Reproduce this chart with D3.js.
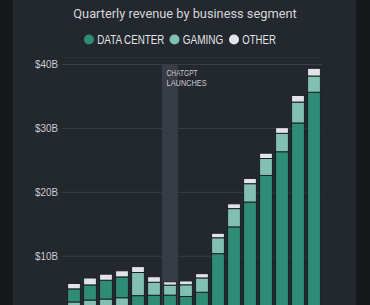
<!DOCTYPE html>
<meta charset="utf-8">
<style>
  body { margin: 0; background: #16181c; }
  svg { display: block; }
  .title { font: 12.8px Roboto, sans-serif; fill: #d4d6da; }
  .legend text { font: 12.5px "Liberation Sans", sans-serif; fill: #e2e4e8; }
  .axis text { font: 11.5px "Liberation Sans", sans-serif; fill: #c9ccd1; }
  .axis line { stroke: #3a3f47; }
  .axis path { display: none; }
  .note { font: 9.5px "Liberation Sans", sans-serif; fill: #c9ccd1; }
</style>
<body>
<script src="https://cdn.jsdelivr.net/npm/d3@7"></script>
<script>
  // Nvidia quarterly revenue, $B
  var quarters = ["Q1 FY22", "Q2 FY22", "Q3 FY22", "Q4 FY22", "Q1 FY23", "Q2 FY23", "Q3 FY23", "Q4 FY23",
    "Q1 FY24", "Q2 FY24", "Q3 FY24", "Q4 FY24", "Q1 FY25", "Q2 FY25", "Q3 FY25", "Q4 FY25"];
  var dataCenter = [2.05, 2.37, 2.94, 3.26, 3.75, 3.81, 3.83, 3.62, 4.28, 10.32, 14.51, 18.40, 22.56, 26.27, 30.77, 35.58];
  var gaming = [2.76, 3.06, 3.22, 3.42, 3.62, 2.04, 1.57, 1.83, 2.24, 2.49, 2.86, 2.87, 2.65, 2.88, 3.28, 2.54];
  var other = [0.85, 1.08, 0.95, 0.96, 0.92, 0.86, 0.52, 0.60, 0.67, 0.70, 0.75, 0.83, 0.83, 0.89, 1.03, 1.21];
  var segments = ["DATA CENTER", "GAMING", "OTHER"];
  var yTicks = [10, 20, 30, 40];
  var chatgptQuarter = "Q3 FY23";

  var width = 370, height = 305;
  var color = d3.scaleOrdinal(segments, ["#2e8c77", "#82c1b2", "#e3e4e8"]);

  var x = d3.scaleBand()
    .domain(quarters)
    .range([66, 322])
    .paddingInner(0.2)
    .paddingOuter(0.1);

  var y = d3.scaleLinear()
    .domain([0, 40])
    .range([319.6, 64]);

  var svg = d3.select("body").append("svg")
    .attr("width", width)
    .attr("height", height);

  // panel
  svg.append("rect")
    .attr("x", 13).attr("y", 0)
    .attr("width", 343).attr("height", height)
    .attr("fill", "#23272e");

  svg.append("text")
    .attr("class", "title")
    .attr("x", 185).attr("y", 18)
    .attr("text-anchor", "middle")
    .text("Quarterly revenue by business segment");

  // legend (condensed look: squeeze the text to the widths in the original)
  var legendX = [89, 174.5, 234];
  var legendW = [67, 40.5, 33.5];
  var legend = svg.append("g").attr("class", "legend")
    .selectAll("g")
    .data(segments)
    .enter().append("g")
    .attr("transform", function (d, i) { return "translate(" + legendX[i] + ",39.5)"; });
  legend.append("circle").attr("r", 5).attr("fill", color);
  legend.append("text")
    .attr("x", 8.3).attr("dy", "0.36em")
    .attr("textLength", function (d, i) { return legendW[i]; })
    .attr("lengthAdjust", "spacingAndGlyphs")
    .text(function (d) { return d; });

  // faint rule under legend
  svg.append("line")
    .attr("x1", 62).attr("x2", 322)
    .attr("y1", 57.5).attr("y2", 57.5)
    .attr("stroke", "#2b2f36");

  svg.append("g")
    .attr("class", "axis")
    .attr("transform", "translate(62,0)")
    .call(d3.axisLeft(y).tickValues(yTicks).tickSize(-260)
      .tickFormat(function (d) { return "$" + d + "B"; }))
    .call(function (g) {
      g.selectAll("text")
        .attr("x", -27).attr("text-anchor", "start")
        .attr("textLength", 23)
        .attr("lengthAdjust", "spacingAndGlyphs");
    });

  // ChatGPT launch band
  svg.append("rect")
    .attr("x", x(chatgptQuarter) - x.step() * x.paddingInner() / 2)
    .attr("y", y(40))
    .attr("width", x.step())
    .attr("height", height)
    .attr("fill", "#383c44");

  var noteW = [31, 40];
  svg.append("text")
    .attr("class", "note")
    .attr("y", 75.5)
    .selectAll("tspan")
    .data(["CHATGPT", "LAUNCHES"])
    .enter().append("tspan")
    .attr("x", x(chatgptQuarter) + 3)
    .attr("dy", function (d, i) { return i ? 10.5 : 0; })
    .attr("textLength", function (d, i) { return noteW[i]; })
    .attr("lengthAdjust", "spacingAndGlyphs")
    .text(function (d) { return d; });

  // stack per quarter, larger of data center / gaming at the bottom, other on top
  var stacked = [];
  quarters.forEach(function (q, i) {
    var parts = [
      { key: "DATA CENTER", value: dataCenter[i] },
      { key: "GAMING", value: gaming[i] }
    ].sort(function (a, b) { return b.value - a.value; });
    parts.push({ key: "OTHER", value: other[i] });
    var base = 0;
    parts.forEach(function (p) {
      stacked.push({ q: q, key: p.key, y0: base, y1: base + p.value });
      base += p.value;
    });
  });

  svg.append("g")
    .selectAll("rect")
    .data(stacked)
    .enter().append("rect")
    .attr("x", function (d) { return x(d.q); })
    .attr("width", x.bandwidth())
    .attr("y", function (d) { return y(d.y1); })
    .attr("height", function (d) { return y(d.y0) - y(d.y1); })
    .attr("fill", function (d) { return color(d.key); })
    .attr("stroke", "#1c2026")
    .attr("stroke-width", 1);
</script>
</body>
